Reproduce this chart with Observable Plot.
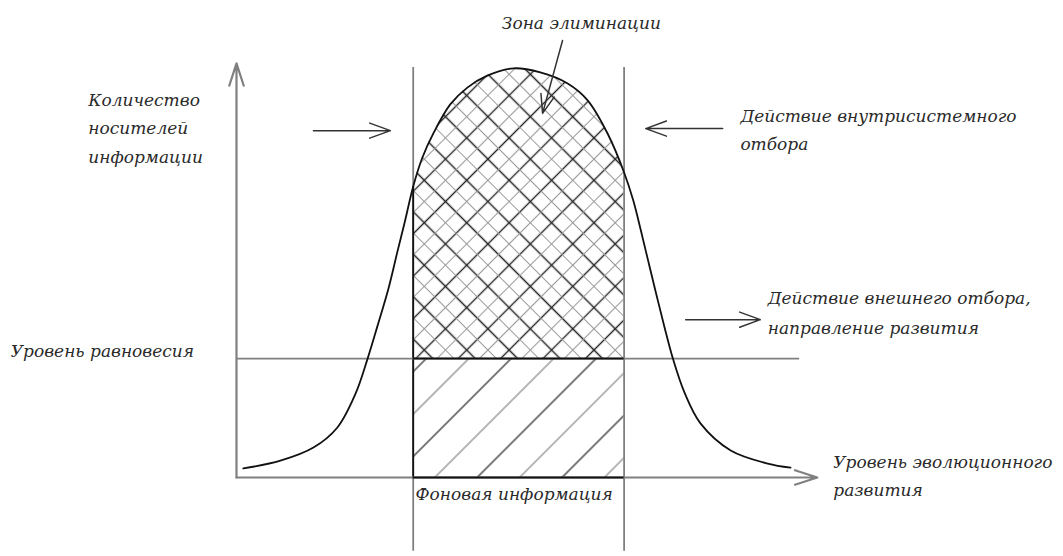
<!DOCTYPE html>
<html>
<head>
<meta charset="utf-8">
<script src="https://cdn.jsdelivr.net/npm/d3@7"></script>
<script src="https://cdn.jsdelivr.net/npm/@observablehq/plot@0.6"></script>
<style>
  html, body { margin: 0; padding: 0; background: #fff; }
  #chart svg { display: block; }
</style>
</head>
<body>
<div id="chart"></div>
<script>
// Curve: "level of evolutionary development" (x) vs "number of information carriers" (y)
const levels   = [0.12, 0.77, 1.35, 1.77, 2.09, 2.30, 2.47, 2.67, 2.82, 2.95, 3.10, 3.26, 3.46, 3.75, 4.05, 4.40, 4.86, 5.33, 5.81, 6.16, 6.51, 6.80, 6.96, 7.09, 7.23, 7.37, 7.51, 7.65, 7.86, 8.14, 8.67, 9.32, 9.72];
const carriers = [0.22, 0.41, 0.73, 1.22, 2.05, 2.90, 3.68, 4.63, 5.49, 6.22, 7.10, 7.80, 8.41, 9.10, 9.51, 9.80, 9.98, 9.88, 9.61, 9.20, 8.39, 7.44, 6.76, 6.05, 5.24, 4.44, 3.66, 2.93, 2.07, 1.32, 0.66, 0.34, 0.24];
const equilibrium = 2.9;           // "Уровень равновесия"
const zoneBounds = [3.10, 6.80];   // bounds of the selection zone

const labelAxisY   = "Количество\nносителей\nинформации";
const labelZone    = "Зона элиминации";
const labelInner   = "Действие внутрисистемного\nотбора";
const labelOuter   = "Действие внешнего отбора,\nнаправление развития";
const labelEquil   = "Уровень равновесия";
const labelBack    = "Фоновая информация";
const labelAxisX   = "Уровень эволюционного\nразвития";

const curve = levels.map((x, i) => ({x, y: carriers[i]}));
const [lo, hi] = zoneBounds;
const zone = curve.filter(d => d.x >= lo && d.x <= hi);
const yAtLo = zone[0].y;

const font = {fontFamily: "DejaVu Serif", fontStyle: "italic", fontSize: 17, fill: "#2a2a2a", textAnchor: "start", lineAnchor: "bottom"};
const grey = "#808080";
const arrowStyle = {stroke: "#333", strokeWidth: 1.5, headLength: 22, headAngle: 40};

const svg = Plot.plot({
  width: 1063,
  height: 556,
  marginLeft: 236,
  marginRight: 257,
  marginTop: 67,
  marginBottom: 79,
  x: {domain: [0, 10], axis: null},
  y: {domain: [0, 10], axis: null},
  style: {background: "#fff"},
  marks: [
    // hatched zones
    Plot.rect([0], {x1: lo, x2: hi, y1: 0, y2: equilibrium, fill: "url(#diag)"}),
    Plot.areaY(zone, {x: "x", y1: equilibrium, y2: "y", fill: "url(#cross)", curve: "catmull-rom"}),
    // vertical zone bounds
    Plot.ruleX(zoneBounds, {y1: -1.8, y2: 10, stroke: grey, strokeWidth: 1.8}),
    Plot.ruleX([lo], {y1: 0, y2: yAtLo, stroke: "#111", strokeWidth: 1.8}),
    // equilibrium level
    Plot.ruleY([equilibrium], {x1: 0, x2: 9.88, stroke: grey, strokeWidth: 1.8}),
    Plot.ruleY([equilibrium], {x1: lo, x2: hi, stroke: "#111", strokeWidth: 2}),
    // axes
    Plot.arrow([0], {x1: 0, y1: 0, x2: 0, y2: 10.1, stroke: grey, strokeWidth: 2.2, headLength: 16, headAngle: 36}),
    Plot.arrow([0], {x1: 0, y1: 0, x2: 10.19, y2: 0, stroke: grey, strokeWidth: 2.2, headLength: 16, headAngle: 36}),
    Plot.ruleY([0], {x1: lo, x2: hi, stroke: "#111", strokeWidth: 2}),
    // distribution curve
    Plot.line(curve, {x: "x", y: "y", stroke: "#111", strokeWidth: 1.8, curve: "catmull-rom"}),
    // action arrows
    Plot.arrow([0], {x1: 1.35, y1: 8.46, x2: 2.70, y2: 8.46, ...arrowStyle}),
    Plot.arrow([0], {x1: 8.53, y1: 8.51, x2: 7.18, y2: 8.51, ...arrowStyle}),
    Plot.arrow([0], {x1: 7.88, y1: 3.85, x2: 9.19, y2: 3.85, ...arrowStyle}),
    Plot.arrow([0], {x1: 5.72, y1: 10.66, x2: 5.37, y2: 8.88, ...arrowStyle, headLength: 20}),
    // labels
    Plot.text([labelAxisY], {x: -2.6, y: 7.68, text: d => d, lineHeight: 1.67, ...font}),
    Plot.text([labelZone], {x: 6.05, y: 10.95, text: d => d, ...font, textAnchor: "middle"}),
    Plot.text([labelInner], {x: 8.84, y: 7.98, text: d => d, lineHeight: 1.65, ...font}),
    Plot.text([labelOuter], {x: 9.32, y: 3.51, text: d => d, lineHeight: 1.76, ...font}),
    Plot.text([labelEquil], {x: -3.96, y: 2.93, text: d => d, ...font}),
    Plot.text([labelBack], {x: 3.14, y: -0.56, text: d => d, ...font}),
    Plot.text([labelAxisX], {x: 10.47, y: -0.44, text: d => d, lineHeight: 1.6, ...font})
  ]
});

// hatch patterns (styles)
const ns = "http://www.w3.org/2000/svg";
const defs = document.createElementNS(ns, "defs");
defs.innerHTML = `
  <pattern id="cross" patternUnits="userSpaceOnUse" width="30" height="30" patternTransform="rotate(45)">
    <path d="M7.5,0V30M0,7.5H30" stroke="#262626" stroke-width="1.4" fill="none"/>
    <path d="M22.5,0V30M0,22.5H30" stroke="#9a9a9a" stroke-width="1.1" fill="none"/>
  </pattern>
  <pattern id="diag" patternUnits="userSpaceOnUse" width="60" height="60" patternTransform="rotate(45)">
    <path d="M15,0V60" stroke="#333" stroke-width="1.3" fill="none"/>
    <path d="M45,0V60" stroke="#777" stroke-width="1.1" fill="none"/>
  </pattern>`;
svg.insertBefore(defs, svg.firstChild);
document.getElementById("chart").appendChild(svg);
</script>
</body>
</html>
